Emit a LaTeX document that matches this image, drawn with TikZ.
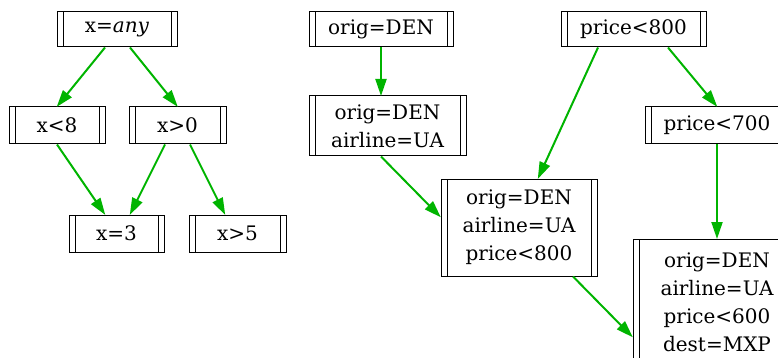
\documentclass[tikz,border=0pt]{standalone}
\usepackage{fontspec}
\setmainfont{DejaVu Serif}
\usepackage{xcolor}
\usetikzlibrary{arrows.meta}
\definecolor{edgegreen}{RGB}{0,180,0}
\tikzset{
  pbox/.style={draw, rectangle, line width=1pt, align=center, inner sep=0pt,
    minimum width=#1, font=\fontsize{20}{28}\selectfont,
    path picture={
      \draw[line width=1pt] ([xshift=6pt]path picture bounding box.south west) -- ([xshift=6pt]path picture bounding box.north west);
      \draw[line width=1pt] ([xshift=-6pt]path picture bounding box.south east) -- ([xshift=-6pt]path picture bounding box.north east);}},
  edge/.style={draw=edgegreen, line width=2pt, -{Triangle[length=17pt,width=11pt]}, shorten >=-0.5pt}
}
\begin{document}
\begin{tikzpicture}[x=1pt,y=-1pt]
\useasboundingbox (0,0) rectangle (778,358);
\clip (0,0) rectangle (778,358);
\node[pbox=120pt, minimum height=35pt] (xany) at (117,29.5) {x=\textit{any}};
\node[pbox=96pt, minimum height=37pt] (xlt8) at (57,125.5) {x<8};
\node[pbox=97pt, minimum height=37pt] (xgt0) at (177.5,125.5) {x>0};
\node[pbox=95pt, minimum height=37pt] (xeq3) at (116.5,233.5) {x=3};
\node[pbox=97pt, minimum height=37pt] (xgt5) at (237.5,233.5) {x>5};
\node[pbox=144pt, minimum height=35pt] (den) at (381,29.5) {orig=DEN};
\node[pbox=157pt, minimum height=60pt] (denua) at (387.5,126) {orig=DEN\\airline=UA};
\node[pbox=145pt, minimum height=35pt] (lt800) at (633.5,29.5) {price<800};
\node[pbox=144pt, minimum height=37pt] (lt700) at (717,125.5) {price<700};
\node[pbox=156pt, minimum height=97pt] (dua800) at (519,227.5) {orig=DEN\\airline=UA\\price<800};
\node[pbox=168pt, minimum height=126pt] (dua600) at (717,302) {orig=DEN\\airline=UA\\price<600\\dest=MXP};
\draw[edge] ([xshift=-12pt]xany.south) -- (xlt8.north);
\draw[edge] ([xshift=13pt]xany.south) -- (xgt0.north);
\draw[edge] (xlt8.south) -- ([xshift=-11.5pt]xeq3.north);
\draw[edge] ([xshift=-12.5pt]xgt0.south) -- ([xshift=13.5pt]xeq3.north);
\draw[edge] ([xshift=12.5pt]xgt0.south) -- ([xshift=-12.5pt]xgt5.north);
\draw[edge] (den.south) -- (den.south |- denua.north);
\draw[edge] (den.south |- denua.south) -- ([yshift=10.5pt]dua800.west);
\draw[edge] ([xshift=-35.5pt]lt800.south) -- ([xshift=19pt]dua800.north);
\draw[edge] ([xshift=34.5pt]lt800.south) -- (lt700.north);
\draw[edge] (lt700.south) -- (dua600.north);
\draw[edge] ([xshift=54pt]dua800.south) -- ([yshift=-35pt]dua600.west);
\end{tikzpicture}
\end{document}
